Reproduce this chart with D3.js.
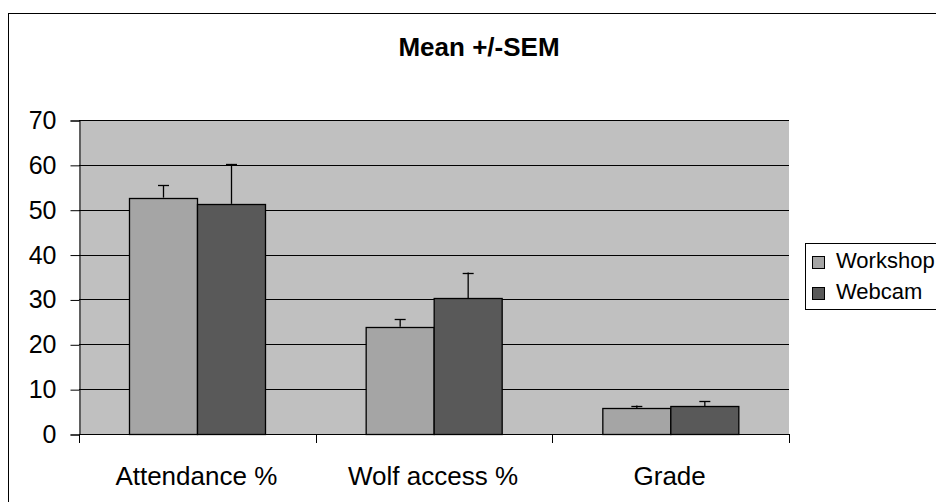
<!DOCTYPE html>
<html><head><meta charset="utf-8">
<script src="https://cdn.jsdelivr.net/npm/d3@7"></script>
<style>body{margin:0;background:#fff}svg{display:block}text{font-family:"Liberation Sans",Arial,sans-serif;fill:#000}</style>
</head><body>
<svg id="c" width="936" height="502"></svg>
<script>
const categories = ["Attendance %", "Wolf access %", "Grade"];
const seriesNames = ["Workshop", "Webcam"];
const workshopMean = [52.7, 23.9, 5.7];
const workshopSEM = [2.8, 1.7, 0.65];
const webcamMean = [51.3, 30.3, 6.25];
const webcamSEM = [8.9, 5.7, 1.1];
const yTicks = [0, 10, 20, 30, 40, 50, 60, 70];
const colors = ["#a5a5a5", "#595959"];

const svg = d3.select("#c");
const plot = {left: 79, right: 789, top: 120, bottom: 434};

svg.append("rect").attr("x", 8.5).attr("y", 13.5).attr("width", 1000).attr("height", 600)
  .attr("fill", "#fff").attr("stroke", "#000").attr("stroke-width", 1);

const x0 = d3.scaleBand().domain(categories).range([plot.left, plot.right]).paddingInner(0).paddingOuter(0);
const x1 = d3.scaleBand().domain(seriesNames).range([0, x0.bandwidth()]).paddingInner(0).paddingOuter(0.74);
const y = d3.scaleLinear().domain([0, 70]).range([plot.bottom, plot.top]);

svg.append("rect").attr("x", plot.left).attr("y", plot.top)
  .attr("width", plot.right - plot.left).attr("height", plot.bottom - plot.top).attr("fill", "#c0c0c0");

// gridlines
svg.append("g").selectAll("line").data(yTicks.filter(d => d > 0)).join("line")
  .attr("x1", plot.left).attr("x2", plot.right)
  .attr("y1", d => Math.round(y(d)) + 0.5).attr("y2", d => Math.round(y(d)) + 0.5)
  .attr("stroke", "#000").attr("stroke-width", 1);

// y axis
const yAxis = d3.axisLeft(y).tickValues(yTicks).tickSize(9).tickPadding(14).tickFormat(d3.format("d"));
const gy = svg.append("g").attr("transform", `translate(${plot.left + 0.5},0.5)`).call(yAxis);
gy.select(".domain").attr("stroke", "#000");
gy.selectAll(".tick line").attr("stroke", "#000");
gy.selectAll(".tick text").attr("font-size", 25).attr("fill", "#000").attr("font-family", "Liberation Sans, Arial, sans-serif");

// x axis
const xEdge = d3.scaleLinear().domain([0, categories.length]).range([plot.left, plot.right]);
const gx = svg.append("g");
gx.append("line").attr("x1", plot.left).attr("x2", plot.right)
  .attr("y1", plot.bottom + 0.5).attr("y2", plot.bottom + 0.5).attr("stroke", "#000");
gx.selectAll("line.tk").data(d3.range(categories.length + 1)).join("line").attr("class", "tk")
  .attr("x1", d => Math.round(xEdge(d)) + 0.5).attr("x2", d => Math.round(xEdge(d)) + 0.5)
  .attr("y1", plot.bottom).attr("y2", plot.bottom + 9).attr("stroke", "#000");
gx.selectAll("text").data(categories).join("text")
  .attr("x", d => x0(d) + x0.bandwidth() / 2 - 1).attr("y", 485)
  .attr("text-anchor", "middle").attr("font-size", 26).text(d => d);

// bars
const data = categories.map((c, i) => ({
  cat: c,
  vals: [
    {s: seriesNames[0], m: workshopMean[i], e: workshopSEM[i], c: colors[0]},
    {s: seriesNames[1], m: webcamMean[i], e: webcamSEM[i], c: colors[1]}
  ]
}));
const groups = svg.append("g").selectAll("g").data(data).join("g")
  .attr("transform", d => `translate(${x0(d.cat)},0)`);
groups.selectAll("rect").data(d => d.vals).join("rect")
  .attr("x", d => Math.round(x1(d.s)) + 0.5).attr("width", Math.round(x1.bandwidth()))
  .attr("y", d => Math.round(y(d.m)) + 0.5).attr("height", d => plot.bottom - Math.round(y(d.m)))
  .attr("fill", d => d.c).attr("stroke", "#000").attr("stroke-width", 1.3);
// error bars
const eb = groups.selectAll("g.eb").data(d => d.vals).join("g").attr("class", "eb");
eb.append("line")
  .attr("x1", d => Math.round(x1(d.s) + x1.bandwidth() / 2) + 0.5).attr("x2", d => Math.round(x1(d.s) + x1.bandwidth() / 2) + 0.5)
  .attr("y1", d => y(d.m)).attr("y2", d => y(d.m + d.e)).attr("stroke", "#000").attr("stroke-width", 1.3);
eb.append("line")
  .attr("x1", d => Math.round(x1(d.s) + x1.bandwidth() / 2) - 5).attr("x2", d => Math.round(x1(d.s) + x1.bandwidth() / 2) + 6)
  .attr("y1", d => Math.round(y(d.m + d.e)) + 0.5).attr("y2", d => Math.round(y(d.m + d.e)) + 0.5)
  .attr("stroke", "#000").attr("stroke-width", 1.3);

// title
svg.append("text").attr("x", 479).attr("y", 56).attr("text-anchor", "middle")
  .attr("font-size", 26).attr("font-weight", "bold").text("Mean +/-SEM");

// legend
const lg = svg.append("g");
lg.append("rect").attr("x", 805.5).attr("y", 243.5).attr("width", 200).attr("height", 66)
  .attr("fill", "#fff").attr("stroke", "#000");
const li = lg.selectAll("g").data(seriesNames).join("g")
  .attr("transform", (d, i) => `translate(812,${256 + i * 31})`);
li.append("rect").attr("x", 0.5).attr("y", 0.5).attr("width", 12).attr("height", 12)
  .attr("fill", (d, i) => colors[i]).attr("stroke", "#000");
li.append("text").attr("x", 24).attr("y", 12).attr("font-size", 22).text(d => d);
</script>
</body></html>
